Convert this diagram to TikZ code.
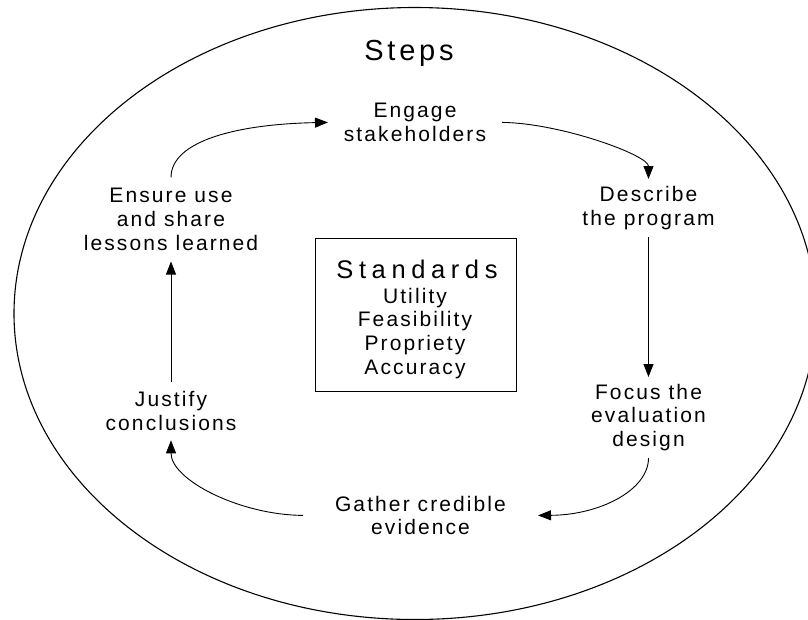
\documentclass[tikz,border=0pt]{standalone}
\usepackage{fontspec}
\setmainfont{Liberation Sans}[LetterSpace=10]
\newfontfamily\titlefont{Liberation Sans}[LetterSpace=13]
\newfontfamily\stdfont{Liberation Sans}[LetterSpace=22]
\usetikzlibrary{arrows.meta}
\begin{document}
\begin{tikzpicture}[x=1pt,y=-1pt,
  steptext/.style={font=\fontsize{21}{23.7}\selectfont, align=center, inner sep=0pt, outer sep=0pt},
  flow/.style={line width=0.9pt, -{Triangle[length=13pt,width=10pt]}},
  frame/.style={draw, line width=0.9pt, inner sep=0pt}
  ]
\useasboundingbox (0,0) rectangle (808,619);
\clip (0,0) rectangle (808,619);
\draw[line width=1.1pt] (415,313.5) ellipse [x radius=401, y radius=306];

\node[font=\titlefont\fontsize{29}{33}\selectfont, anchor=base, inner sep=0pt] (steps) at (409,60) {Steps};

\node[frame, minimum width=201pt, minimum height=153pt] (stdbox) at (415.5,314.5) {};
\node[font=\stdfont\fontsize{25.5}{30}\selectfont, anchor=base, inner sep=0pt] (stdtitle) at (417,278) {Standards};
\node[steptext] (stdlist) at (415,333.2) {Utility\\Feasibility\\Propriety\\Accuracy};

\node[steptext, minimum width=174pt] (engage) at (415,122.4) {Engage\\stakeholders};
\node[steptext, minimum height=58pt] (describe) at (648.5,208) {Describe\\the program};
\node[steptext, minimum height=81pt] (focus) at (648.5,417.5) {Focus the\\evaluation\\design};
\node[steptext, minimum width=235pt] (gather) at (420.5,515.4) {Gather credible\\evidence};
\node[steptext, minimum height=58pt] (justify) at (171,411.3) {Justify\\conclusions};
\node[steptext, minimum height=84pt] (ensure) at (171,219.5) {Ensure use\\and share\\lessons learned};

\draw[flow] (ensure.north) .. controls (171,140) and (240,124) .. (engage.west);
\draw[flow] (engage.east) .. controls (560,123) and (648.5,155) .. (describe.north);
\draw[flow] (describe.south) -- (focus.north);
\draw[flow] (focus.south) .. controls (648.5,490) and (600,515) .. (gather.east);
\draw[flow] (gather.west) .. controls (240,515) and (171,480) .. (justify.south);
\draw[flow] (justify.north) -- (ensure.south);
\end{tikzpicture}
\end{document}
